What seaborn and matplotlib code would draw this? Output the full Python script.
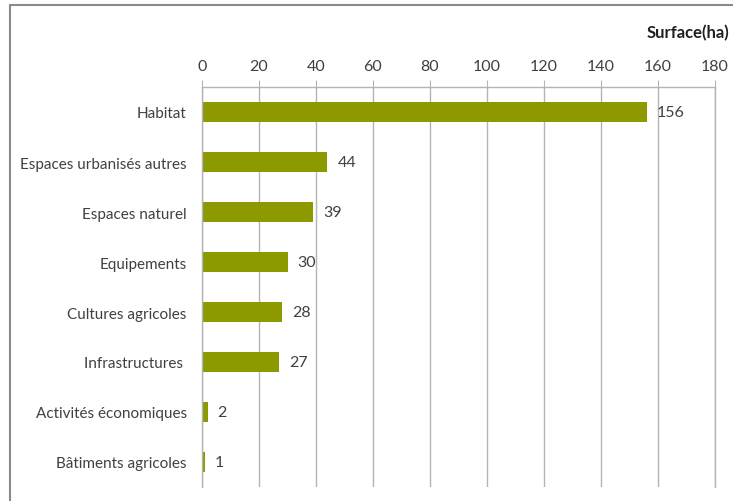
import pandas as pd
import matplotlib.pyplot as plt
import matplotlib.lines as mlines
import seaborn as sns

categories = ["Habitat", "Espaces urbanisés autres", "Espaces naturel", "Equipements",
              "Cultures agricoles", "Infrastructures ", "Activités économiques", "Bâtiments agricoles"]
surface = [156, 44, 39, 30, 28, 27, 2, 1]
x_ticks = [0, 20, 40, 60, 80, 100, 120, 140, 160, 180]

bar_color = "#8c9a00"
text_color = "#404040"
grid_color = "#b4b4b4"

sns.set_style("white")
plt.rcParams['font.family'] = ['Lato', 'DejaVu Sans']

df = pd.DataFrame({"categorie": categories, "surface": surface})

fig = plt.figure(figsize=(7.33, 5.02), dpi=100)
ax = fig.add_axes([202 / 733, 1 - 488 / 502, 513 / 733, 400 / 502])

sns.barplot(data=df, x="surface", y="categorie", orient="h", color=bar_color,
            width=0.4, saturation=1, linewidth=0, ax=ax)

ax.set_xlim(0, 180)
ax.set_ylim(len(categories) - 0.5, -0.5)
ax.set_xticks(x_ticks)
ax.xaxis.tick_top()
ax.tick_params(axis="x", direction="out", length=5, color=grid_color, labelsize=11.5,
               labelcolor=text_color, pad=5)
ax.grid(axis="x", color=grid_color, linewidth=1)
ax.axvline(180, color=grid_color, linewidth=1, clip_on=False, zorder=0)
ax.set_axisbelow(True)

# category ticks sit between the bars
ax.set_yticks([i + 0.5 for i in range(len(categories))], minor=True)
ax.set_yticks(range(len(categories)))
ax.set_yticklabels(categories)
ax.tick_params(axis="y", which="major", length=0, labelsize=11, labelcolor=text_color, pad=11)
ax.tick_params(axis="y", which="minor", direction="out", length=6, color=grid_color)
ax.set_xlabel("")
ax.set_ylabel("")

for side in ["right", "bottom"]:
    ax.spines[side].set_visible(False)
for side in ["top", "left"]:
    ax.spines[side].set_color(grid_color)
    ax.spines[side].set_linewidth(1)

for i, v in enumerate(surface):
    ax.text(v + 3.5, i, str(v), va="center", ha="left", fontsize=11.5, color=text_color)

fig.text(729 / 733, 1 - 33 / 502, "Surface(ha)", ha="right", va="center",
         fontsize=12, fontweight="bold", color="#202020")

# frame around the chart
fig.add_artist(mlines.Line2D([9.5 / 733, 9.5 / 733], [0, 1 - 6 / 502],
                             transform=fig.transFigure, color="#8a8a8a", linewidth=1.5))
fig.add_artist(mlines.Line2D([9.5 / 733, 1], [1 - 6 / 502, 1 - 6 / 502],
                             transform=fig.transFigure, color="#8a8a8a", linewidth=1.5))

fig.savefig("out.png", dpi=100)
